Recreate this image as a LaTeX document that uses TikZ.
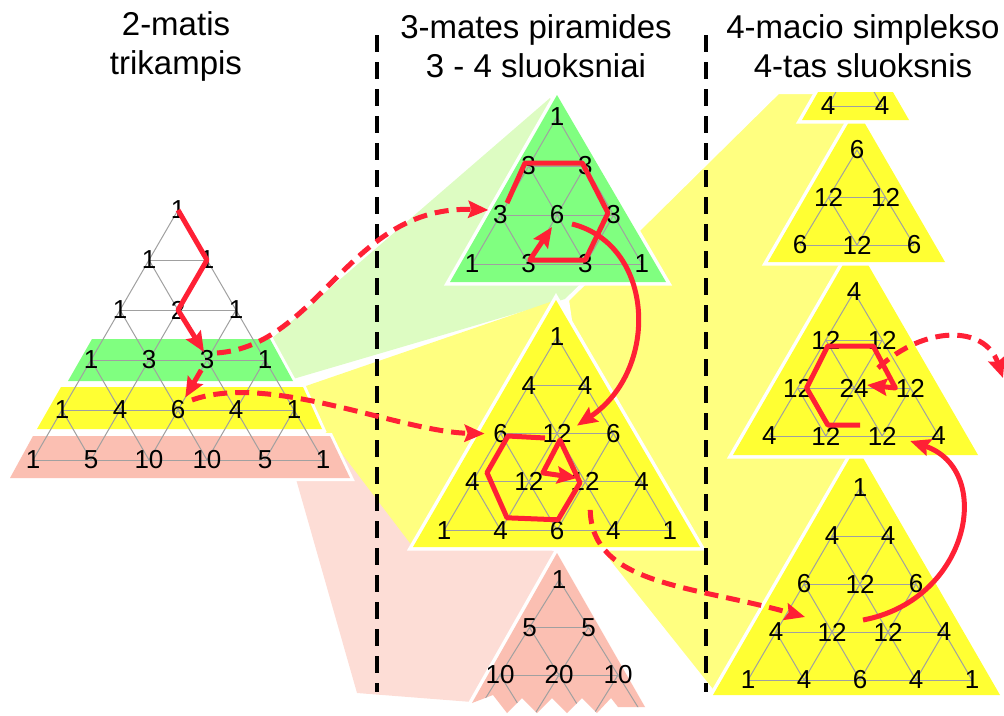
\documentclass[tikz,border=0pt]{standalone}
\usepackage{fontspec}
\setmainfont{Liberation Sans}
\usetikzlibrary{arrows.meta,calc}

\definecolor{grn}{HTML}{80FF80}
\definecolor{grnlt}{HTML}{DDFCC2}
\definecolor{yel}{HTML}{FFFF33}
\definecolor{yellt}{HTML}{FFFF80}
\definecolor{pnk}{HTML}{FBBFB2}
\definecolor{pnklt}{HTML}{FDDDD6}
\definecolor{arrowred}{HTML}{FF2035}
\definecolor{gridgray}{HTML}{A0A0A0}

% triangular lattice: name, apex x, apex y, half step, row step, last row
\newcommand\trigrid[6]{%
  \foreach \r in {0,...,#6}{
    \foreach \k in {0,...,\r}{
      \coordinate (#1-\r-\k) at ({#2+(2*\k-\r)*#4},{#3+\r*#5});
    }
  }
  \foreach \r in {1,...,#6}{
    \draw[gridline] (#1-\r-0) -- (#1-\r-\r);
  }
  \pgfmathtruncatemacro\lastrow{#6-1}
  \foreach \r in {0,...,\lastrow}{
    \pgfmathtruncatemacro\nr{\r+1}
    \foreach \k in {0,...,\r}{
      \pgfmathtruncatemacro\nk{\k+1}
      \draw[gridline] (#1-\nr-\k) -- (#1-\r-\k) -- (#1-\nr-\nk);
    }
  }
}
% numbers of one row
\newcommand\trinums[3]{%
  \foreach \v [count=\k from 0] in {#3}
    \node[num] (#1n-#2-\k) at (#1-#2-\k) {\v};
}
\newcommand\pinkshape{(557,553) -- (472,703) -- (493,695) -- (507,713) -- (522,698)
  -- (537,713) -- (552,698) -- (567,713) -- (582,698) -- (597,713) -- (611,698)
  -- (618,707) -- (645,707) -- cycle}

\begin{document}
\begin{tikzpicture}[
  x=1pt, y=-1pt,
  num/.style={font=\fontsize{26}{26}\selectfont, inner sep=0pt},
  title/.style={font=\fontsize{33}{39}\selectfont, align=center},
  gridline/.style={draw=gridgray, line width=1pt},
  band/.style={fill=#1, preaction={draw=white, line width=6pt, line join=miter}},
  tri/.style={fill=#1, preaction={draw=white, line width=7pt, line join=miter}},
  proj/.style={fill=#1},
  sep/.style={line width=4.5pt, dash pattern=on 17pt off 10pt},
  redpath/.style={draw=arrowred, line width=5pt, line join=round,
    -{Stealth[length=20pt,width=17pt,inset=3pt]}},
  reddash/.style={redpath, dash pattern=on 14pt off 8pt}
]
\useasboundingbox (0,0) rectangle (1004,715);

% projections
\path[proj=grnlt] (270,340) -- (550,98) -- (640,277) -- (293,379) -- cycle;
\path[proj=pnklt] (296,479) -- (331,437) -- (557,553) -- (472,702) -- (357,693) -- cycle;
\path[proj=yellt] (303,387) -- (556,300) -- (413,547) -- (324,430) -- cycle;
\begin{scope}
  \clip (560,92) rectangle (1004,715);
  \path[proj=yellt, draw=white, line width=4pt]
    (567,300) -- (778,92) -- (857,92) -- (857,695) -- (715,695) -- (605,557) -- cycle;
\end{scope}

% 2-matis trikampis
\path[band=grn] (92,339) -- (270,339) -- (293,381) -- (68,381) -- cycle;
\path[band=yel] (61,387) -- (303,387) -- (322,429) -- (37,429) -- cycle;
\path[band=pnk] (33,436) -- (330,436) -- (350,478) -- (10,478) -- cycle;
\trigrid{L}{178}{210}{29}{50}{5}
\trinums{L}{0}{1}
\trinums{L}{1}{1,1}
\trinums{L}{2}{1,2,1}
\trinums{L}{3}{1,3,3,1}
\trinums{L}{4}{1,4,6,4,1}
\trinums{L}{5}{1,5,10,10,5,1}

% piramides sluoksniai
\path[tri=pnk] \pinkshape;
\begin{scope}
  \clip \pinkshape;
  \trigrid{P}{559}{580}{29.5}{47.5}{3}
\end{scope}
\trinums{P}{0}{1}
\trinums{P}{1}{5,5}
\trinums{P}{2}{10,20,10}

\path[tri=yel] (556,300) -- (413,547) -- (700,547) -- cycle;
\trigrid{Y}{557}{337}{28.2}{48.3}{4}
\trinums{Y}{0}{1}
\trinums{Y}{1}{4,4}
\trinums{Y}{2}{6,12,6}
\trinums{Y}{3}{4,12,12,4}
\trinums{Y}{4}{1,4,6,4,1}

\path[tri=grn] (557,95) -- (450,282) -- (666,282) -- cycle;
\trigrid{G}{557}{117}{28.3}{49}{3}
\trinums{G}{0}{1}
\trinums{G}{1}{3,3}
\trinums{G}{2}{3,6,3}
\trinums{G}{3}{1,3,3,1}

% simplekso sluoksnis
\begin{scope}
  \clip (560,92) rectangle (1004,715);
  \path[tri=yel] (856.5,446.5) -- (713,695) -- (1000,695) -- cycle;
  \trigrid{D}{860}{488}{28}{48}{4}
  \trinums{D}{0}{1}
  \trinums{D}{1}{4,4}
  \trinums{D}{2}{6,12,6}
  \trinums{D}{3}{4,12,12,4}
  \trinums{D}{4}{1,4,6,4,1}
  \path[tri=yel] (855.5,243) -- (733,455) -- (978,455) -- cycle;
  \trigrid{C}{854}{292}{28.2}{48}{3}
  \trinums{C}{0}{4}
  \trinums{C}{1}{12,12}
  \trinums{C}{2}{12,24,12}
  \trinums{C}{3}{4,12,12,4}
  \path[tri=yel] (856.5,109) -- (768,262) -- (945,262) -- cycle;
  \trigrid{B}{857}{150}{28.5}{47.5}{2}
  \trinums{B}{0}{6}
  \trinums{B}{1}{12,12}
  \trinums{B}{2}{6,12,6}
  \path[tri=yel] (855.5,27) -- (802,120) -- (909,120) -- cycle;
  \trigrid{A}{855}{58}{27}{48}{1}
  \trinums{A}{1}{4,4}
\end{scope}

% skirtukai
\coordinate (sepL-top) at (377,35);
\coordinate (sepL-bot) at (377,692);
\coordinate (sepR-top) at (706,35);
\coordinate (sepR-bot) at (706,692);
\draw[sep] (sepL-top) -- (sepL-bot);
\draw[sep] (sepR-top) -- (sepR-bot);

% keliai
\draw[redpath] (L-0-0) -- (L-1-1) -- (L-2-1) -- ([shift={(-3,-8)}]L-3-2);
\draw[redpath] ($(L-3-2)!0.2!(L-4-2)$) -- ($(L-4-2)!0.25!(L-3-2)$);
\draw[reddash] ([shift={(10,-7)}]L-3-2) .. controls (320,345) and (350,205) .. ([shift={(-12,-5)}]G-2-0);
\draw[reddash] ([shift={(14,-10)}]L-4-2) .. controls (270,372) and (400,432) .. ([shift={(-16,0)}]Y-2-0);

\draw[redpath] ([shift={(6.6,-12)}]G-2-0) -- ([shift={(-3.7,-3)}]G-1-0) -- ([shift={(-3,-3)}]G-1-1)
  -- ([shift={(-5.6,-2)}]G-2-2) -- ([shift={(0,-4)}]G-3-2) -- ([shift={(1,-4)}]G-3-1)
  -- ([shift={(-5,12)}]G-2-1);
\draw[redpath] ([shift={(15,9)}]G-2-1) .. controls (655,245) and (660,370) .. ([shift={(20,-8)}]Y-2-1);

\draw[redpath] ([shift={(-12,4.4)}]Y-2-1) -- ([shift={(7.4,2.4)}]Y-2-0) -- ([shift={(14.6,-9.2)}]Y-3-0)
  -- ([shift={(6.4,-12.4)}]Y-4-1) -- ([shift={(1,-10.4)}]Y-4-2) -- ([shift={(-5.2,0.8)}]Y-3-2)
  -- ([shift={(3,6.4)}]Y-2-1) -- ([shift={(14,-9)}]Y-3-1) -- ([shift={(-8,-4)}]Y-3-2);
\draw[reddash] ([shift={(5,28)}]Y-3-2) .. controls (592,585) and (690,585) .. ([shift={(-27,-15)}]D-3-1);

\draw[redpath] ([shift={(31,-12)}]D-3-1) .. controls (970,600) and (995,470) .. ([shift={(28,5)}]C-3-2);
\draw[redpath] ([shift={(-22,-11)}]C-3-2) -- ([shift={(2,-11)}]C-3-1) -- ([shift={(9,0)}]C-2-0)
  -- ([shift={(2,6)}]C-1-0) -- ([shift={(-9,6)}]C-1-1) -- ([shift={(-15,0)}]C-2-2)
  -- ([shift={(13,-3)}]C-2-1);
\coordinate (exit) at (1003,378);
\draw[reddash] ([shift={(24,-20)}]C-2-1) .. controls (925,325) and (985,325) .. (exit);

% antrastes
\node[title] (t2d) at (176,46) {2-matis\\trikampis};
\node[title] (t3d) at (536,46) {3-mates piramides\\3 - 4 sluoksniai};
\node[title] (t4d) at (863,46) {4-macio simplekso\\4-tas sluoksnis};
\end{tikzpicture}
\end{document}
